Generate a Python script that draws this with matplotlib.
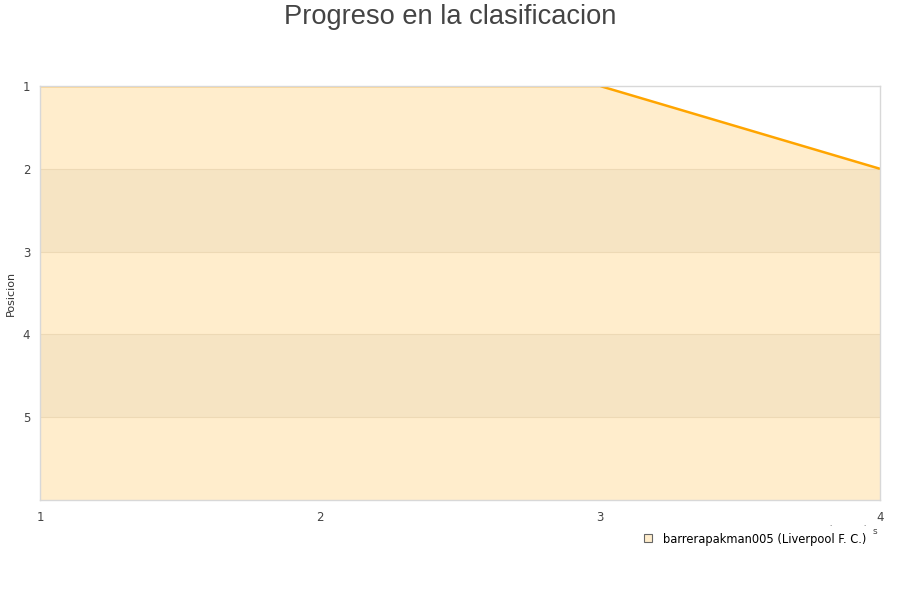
import matplotlib
matplotlib.use("Agg")
import matplotlib.pyplot as plt
from matplotlib.lines import Line2D

jornadas = [1, 2, 3, 4]
posiciones = [1, 1, 1, 2]
y_ticks = [1, 2, 3, 4, 5]
serie = "barrerapakman005 (Liverpool F. C.)"
titulo = "Progreso en la clasificacion"

fig = plt.figure(figsize=(9, 6), dpi=100)
ax = fig.add_axes([40/900, 1 - 500/600, 840/900, 414/600])

fill_c = "#FFEDCC"
band_c = "#F6E4C3"
line_c = "#FFA500"

ax.fill_between(jornadas, posiciones, 6, color=fill_c, lw=0, zorder=1)
for lo in (2, 4):
    ax.axhspan(lo, lo + 1, color=band_c, lw=0, zorder=2)
for g in (2, 3, 4, 5):
    ax.axhline(g, color="#EDD9B5", lw=0.8, zorder=3)
ax.plot(jornadas, posiciones, color=line_c, lw=1.8, zorder=4, solid_capstyle="butt")

ax.set_xlim(1, 4)
ax.set_ylim(6, 1)
ax.set_xticks(jornadas)
ax.set_yticks(y_ticks)
ax.tick_params(axis="both", length=0, labelsize=8.5, labelcolor="#444444")
ax.tick_params(axis="x", pad=8)
ax.tick_params(axis="y", pad=7)
for s in ax.spines.values():
    s.set_color("#D8D8D8")
    s.set_linewidth(1)
    s.set_zorder(5)
ax.set_ylabel("Posicion", fontsize=8, color="#333333")
ax.yaxis.set_label_coords(-24/840, 0.5)

fig.text(0.5, 1 - 17/600, titulo, ha="center", va="center", fontsize=19.6,
         color="#444444", family="Liberation Sans")

fig.text(875/900, 1 - 531/600, "s", ha="center", va="center", fontsize=6.5, color="#444444")
fig.text(830/900, 1 - 524/600, ".", ha="center", va="center", fontsize=5, color="#444444")
fig.text(864/900, 1 - 524/600, ".", ha="center", va="center", fontsize=5, color="#444444")

handle = Line2D([], [], marker="s", linestyle="none", markersize=6,
                markerfacecolor=fill_c, markeredgecolor="#666666", markeredgewidth=0.8)
fig.legend([handle], [serie], loc="center", bbox_to_anchor=(754/900, 1 - 539/600),
           frameon=False, fontsize=8.3, handletextpad=0.8, handlelength=1.0)

fig.savefig("out.png", dpi=100)
